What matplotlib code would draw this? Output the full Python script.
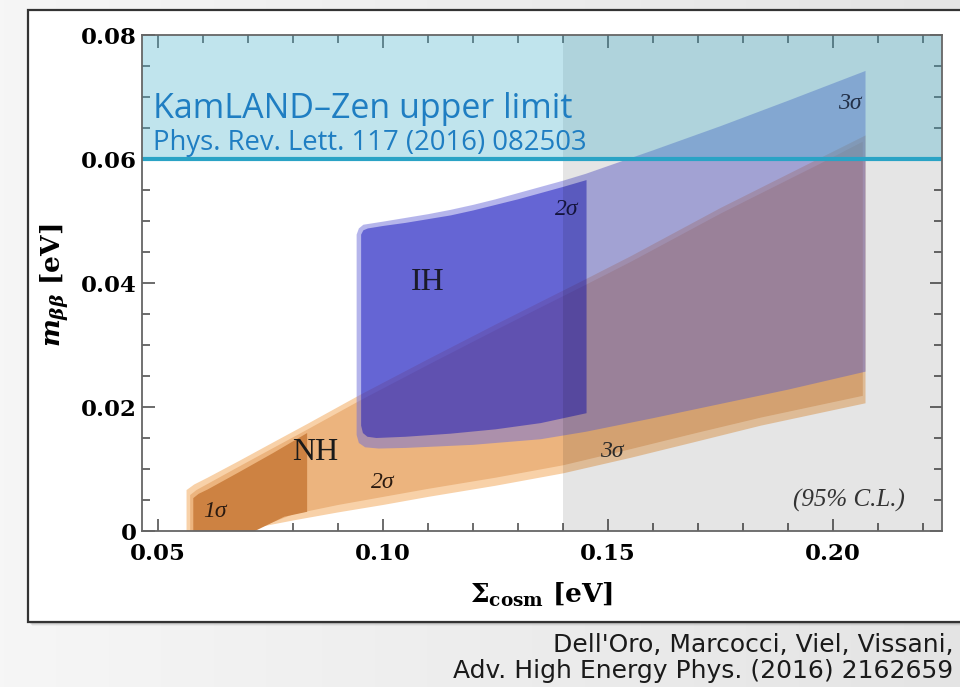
import numpy as np
import matplotlib
matplotlib.use("Agg")
import matplotlib.pyplot as plt
from matplotlib.patches import Rectangle

plt.rcParams['mathtext.fontset'] = 'custom'
plt.rcParams['mathtext.rm'] = 'DejaVu Serif:bold'
plt.rcParams['mathtext.it'] = 'DejaVu Serif:italic:bold'
plt.rcParams['mathtext.bf'] = 'DejaVu Serif:bold'

# --- region boundaries (sum of masses [eV], m_bb [eV]) ---
# normal hierarchy, 3 sigma
nh3_top_x = [0.0563, 0.0563, 0.058, 0.061, 0.068, 0.0756, 0.083, 0.095, 0.110, 0.125, 0.145, 0.155, 0.175, 0.197, 0.2072]
nh3_top_y = [0.0, 0.0066, 0.0075, 0.0086, 0.0113, 0.0143, 0.0172, 0.0220, 0.0277, 0.0333, 0.0406, 0.0443, 0.0521, 0.0601, 0.0638]
nh3_bot_x = [0.2072, 0.184, 0.169, 0.155, 0.140, 0.125, 0.110, 0.100, 0.090, 0.080, 0.068]
nh3_bot_y = [0.0206, 0.0170, 0.0143, 0.0118, 0.0093, 0.0073, 0.0055, 0.0042, 0.0030, 0.0017, 0.0]
# normal hierarchy, 2 sigma
nh2_top_x = [0.0571, 0.0571, 0.0585, 0.061, 0.068, 0.0756, 0.083, 0.095, 0.110, 0.125, 0.145, 0.155, 0.175, 0.197, 0.2066]
nh2_top_y = [0.0, 0.0058, 0.0066, 0.0076, 0.0104, 0.0134, 0.0163, 0.0211, 0.0268, 0.0324, 0.0397, 0.0434, 0.0512, 0.0592, 0.0628]
nh2_bot_x = [0.2066, 0.184, 0.169, 0.155, 0.140, 0.125, 0.110, 0.100, 0.090, 0.080, 0.0705]
nh2_bot_y = [0.0218, 0.0183, 0.0157, 0.0132, 0.0106, 0.0086, 0.0068, 0.0055, 0.0042, 0.0027, 0.0]
# normal hierarchy, 1 sigma
nh1_top_x = [0.0578, 0.0578, 0.059, 0.061, 0.068, 0.0756, 0.0831]
nh1_top_y = [0.0, 0.0053, 0.0060, 0.0067, 0.0095, 0.0126, 0.0158]
nh1_bot_x = [0.0831, 0.078, 0.0715]
nh1_bot_y = [0.0031, 0.0023, 0.0]
# inverted hierarchy, 3 sigma
ih3_top_x = [0.0941, 0.0941, 0.0946, 0.0956, 0.100, 0.105, 0.110, 0.115, 0.120, 0.125, 0.130, 0.135, 0.140, 0.145, 0.160, 0.175, 0.190, 0.2072]
ih3_top_y = [0.0155, 0.0478, 0.0488, 0.0494, 0.0499, 0.0505, 0.0511, 0.0518, 0.0526, 0.0535, 0.0545, 0.0555, 0.0565, 0.0576, 0.0614, 0.0653, 0.0694, 0.0742]
ih3_bot_x = [0.2072, 0.190, 0.175, 0.160, 0.145, 0.135, 0.120, 0.105, 0.099, 0.096, 0.0946]
ih3_bot_y = [0.0257, 0.0228, 0.0205, 0.0182, 0.0160, 0.0148, 0.0139, 0.0134, 0.0133, 0.0135, 0.0142]
# inverted hierarchy, 2 sigma
ih2_top_x = [0.0951, 0.0951, 0.0956, 0.0966, 0.100, 0.105, 0.110, 0.115, 0.120, 0.125, 0.130, 0.135, 0.140, 0.1452]
ih2_top_y = [0.0170, 0.0478, 0.0485, 0.0488, 0.0492, 0.0497, 0.0503, 0.0509, 0.0517, 0.0526, 0.0535, 0.0545, 0.0555, 0.0566]
ih2_bot_x = [0.1452, 0.135, 0.125, 0.115, 0.105, 0.0985, 0.0965, 0.0955]
ih2_bot_y = [0.0190, 0.0174, 0.0164, 0.0157, 0.0152, 0.0150, 0.0152, 0.0158]

kamland_limit = 0.06
cosmo_bound = 0.14

x_major = [0.05, 0.10, 0.15, 0.20]
x_major_labels = ["0.05", "0.10", "0.15", "0.20"]
x_minor = [0.06, 0.07, 0.08, 0.09, 0.11, 0.12, 0.13, 0.14, 0.16, 0.17, 0.18, 0.19, 0.21, 0.22]
y_major = [0.0, 0.02, 0.04, 0.06, 0.08]
y_major_labels = ["0", "0.02", "0.04", "0.06", "0.08"]
y_minor = [0.005, 0.01, 0.015, 0.025, 0.03, 0.035, 0.045, 0.05, 0.055, 0.065, 0.07, 0.075]

# ------------------------------------------------------------------
W, H = 960, 687
fig = plt.figure(figsize=(W / 100, H / 100), dpi=100)
fig.patch.set_facecolor('#eeeeee')

# slide background gradient
bg = fig.add_axes([0, 0, 1, 1], zorder=-10)
grad = np.linspace(0, 1, 256)[None, :]
bg.imshow(grad, aspect='auto', cmap=matplotlib.colors.LinearSegmentedColormap.from_list(
    'bg', ['#f6f6f6', '#e4e4e4']), extent=[0, 1, 0, 1])
bg.set_axis_off()

# white box with shadow
box_l, box_b, box_t = 28 / W, 1 - 622 / H, 1 - 10 / H
for k, a in enumerate([0.10, 0.07, 0.04]):
    fig.patches.append(Rectangle((box_l + (k + 2) / W, box_b - (k + 2) / H), 1.1, box_t - box_b,
                                 transform=fig.transFigure, facecolor='black', alpha=a,
                                 edgecolor='none', zorder=-5))
fig.patches.append(Rectangle((box_l, box_b), 1.1, box_t - box_b, transform=fig.transFigure,
                             facecolor='white', edgecolor='#333333', lw=1.6, zorder=-4))

ax = fig.add_axes([142 / W, 1 - 531 / H, 800 / W, 496 / H])
ax.set_facecolor('none')


def region(tx, ty, bx, by, **kw):
    ax.fill(tx + bx, ty + by, lw=0, **kw)


region(nh3_top_x, nh3_top_y, nh3_bot_x, nh3_bot_y, color='#f8d1a8', zorder=1)
region(nh2_top_x, nh2_top_y, nh2_bot_x, nh2_bot_y, color='#ecb47e', zorder=2)
region(nh1_top_x, nh1_top_y, nh1_bot_x, nh1_bot_y, color='#cd8242', zorder=3)
region(ih3_top_x, ih3_top_y, ih3_bot_x, ih3_bot_y, color='#6d6dd9', alpha=0.5, zorder=4)
region(ih2_top_x, ih2_top_y, ih2_bot_x, ih2_bot_y, color='#0505b8', alpha=0.45, zorder=5)

ax.axvspan(cosmo_bound, 1.0, color='black', alpha=0.10, lw=0, zorder=6)
ax.axhspan(kamland_limit, 1.0, color='#4bb2ce', alpha=0.35, lw=0, zorder=7)
ax.axhline(kamland_limit, color='#2aa3c5', lw=3, zorder=8)

ax.set_xlim(0.0464, 0.2242)
ax.set_ylim(0, 0.08)

# labels inside the plot
serif = 'Liberation Serif'
ax.text(0.1098, 0.0400, 'IH', fontsize=23, family=serif, color='#1a1a2a', ha='center', va='center', zorder=10)
ax.text(0.0849, 0.0127, 'NH', fontsize=23, family=serif, color='#1a1a1a', ha='center', va='center', zorder=10)
sig = dict(fontsize=17, family=serif, style='italic', ha='center', va='center', zorder=10)
ax.text(0.0627, 0.0032, '1σ', color='#2a1a10', **sig)
ax.text(0.0998, 0.0079, '2σ', color='#2a1a10', **sig)
ax.text(0.1507, 0.0129, '3σ', color='#2a2a2a', **sig)
ax.text(0.1409, 0.0518, '2σ', color='#14143c', **sig)
ax.text(0.2038, 0.0690, '3σ', color='#223048', **sig)
ax.text(0.2036, 0.0050, '(95% C.L.)', fontsize=18, family=serif, style='italic', color='#333333',
        ha='center', va='center', zorder=10)

ax.text(0.0489, 0.0666, 'KamLAND–Zen upper limit', fontsize=24.5, family='Open Sans',
        color='#1f7ec2', ha='left', va='baseline', zorder=10)
ax.text(0.0489, 0.0615, 'Phys. Rev. Lett. 117 (2016) 082503', fontsize=19.8, family='Open Sans',
        color='#1f7ec2', ha='left', va='baseline', zorder=10)

# axes cosmetics
for s in ax.spines.values():
    s.set_color('#666666')
    s.set_linewidth(1.3)
    s.set_zorder(11)
ax.set_xticks(x_major)
ax.set_xticks(x_minor, minor=True)
ax.set_yticks(y_major)
ax.set_yticks(y_minor, minor=True)
tick_font = dict(family='DejaVu Serif', weight='bold', size=16.5)
ax.set_xticklabels(x_major_labels, fontdict=tick_font)
ax.set_yticklabels(y_major_labels, fontdict=tick_font)
ax.tick_params(which='both', direction='in', top=True, right=True, color='#444444', width=1.1)
ax.tick_params(which='major', length=9)
ax.tick_params(which='minor', length=6)
ax.tick_params(axis='x', which='major', pad=9)
ax.tick_params(axis='y', which='major', pad=4)

ax.text(-0.109, 0.496, r'$m_{\beta\beta}$ [eV]', transform=ax.transAxes, rotation=90,
        fontsize=19, family='DejaVu Serif', weight='bold', ha='center', va='center')
ax.text(0.5, -0.129, r'$\Sigma_{\mathrm{cosm}}$ [eV]', transform=ax.transAxes,
        fontsize=19, family='DejaVu Serif', weight='bold', ha='center', va='center')

# citation below the box (right edge kept inside the canvas)
fig.text(0.993, 1 - 652 / H, "Dell'Oro, Marcocci, Viel, Vissani,", fontsize=18,
         family='DejaVu Sans', color='#1a1a1a', ha='right', va='baseline')
fig.text(0.993, 1 - 678 / H, "Adv. High Energy Phys. (2016) 2162659", fontsize=18,
         family='DejaVu Sans', color='#1a1a1a', ha='right', va='baseline')

fig.savefig('out.png', dpi=100)
